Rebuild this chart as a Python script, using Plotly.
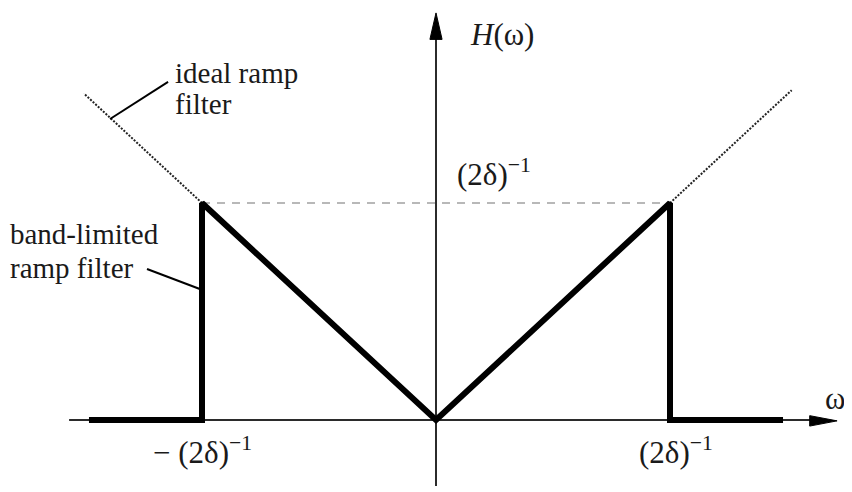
import plotly.graph_objects as go

# ---- data (omega normalised to the band edge (2δ)^-1 = 1) ----
band_w = [-1.483, -1.0, -1.0, 0.0, 1.0, 1.0, 1.483]
band_h = [0.0, 0.0, 1.0, 0.0, 1.0, 0.0, 0.0]

ideal_left_w = [-1.0, -1.505]
ideal_left_h = [1.0, 1.505]
ideal_right_w = [1.0, 1.52]
ideal_right_h = [1.0, 1.52]

cutoff_w = [-1.0, 1.0]
cutoff_h = [1.0, 1.0]

# axis extents
x_axis_start, x_axis_end = -1.568, 1.714
y_axis_start, y_axis_end = -0.304, 1.876

FONT = "Liberation Serif, Times New Roman, serif"
AX = "#2b2b2b"

# pixel scale (the page body adds an 8px offset)
XS, YS = 234.0, 217.0
OFF = 8

fig = go.Figure()

# axes (drawn as lines)
fig.add_trace(go.Scatter(x=[x_axis_start, x_axis_end - 0.11], y=[0, 0], mode="lines",
                         line=dict(color=AX, width=2), hoverinfo="skip"))
fig.add_trace(go.Scatter(x=[0, 0], y=[y_axis_start, y_axis_end - 0.11], mode="lines",
                         line=dict(color=AX, width=2), hoverinfo="skip"))
# arrowheads
fig.add_trace(go.Scatter(x=[x_axis_end, x_axis_end - 0.117, x_axis_end - 0.117, x_axis_end],
                         y=[-0.004, 0.02, -0.028, -0.004], mode="lines", fill="toself",
                         fillcolor="black", line=dict(color="black", width=1), hoverinfo="skip"))
fig.add_trace(go.Scatter(x=[0, -0.026, 0.026, 0],
                         y=[y_axis_end, y_axis_end - 0.122, y_axis_end - 0.122, y_axis_end],
                         mode="lines", fill="toself",
                         fillcolor="black", line=dict(color="black", width=1), hoverinfo="skip"))

# dashed cutoff level
fig.add_trace(go.Scatter(x=cutoff_w, y=cutoff_h, mode="lines",
                         line=dict(color="#b8b8b8", width=2, dash="8px,7px"), hoverinfo="skip"))
# ideal ramp (dotted)
for xs, ys in [(ideal_left_w, ideal_left_h), (ideal_right_w, ideal_right_h)]:
    fig.add_trace(go.Scatter(x=xs, y=ys, mode="lines",
                             line=dict(color="#222", width=2, dash="2px,1.5px"), hoverinfo="skip"))
# band-limited ramp
fig.add_trace(go.Scatter(x=band_w, y=band_h, mode="lines",
                         line=dict(color="black", width=6), hoverinfo="skip"))

# pointer lines
pointers = [((-1.393, 1.387), (-1.145, 1.558)),
            ((-0.998, 0.599), (-1.235, 0.696))]
for (x0, y0), (x1, y1) in pointers:
    fig.add_shape(type="line", x0=x0, y0=y0, x1=x1, y1=y1, xref="x", yref="y",
                  line=dict(color="black", width=2))

tf = dict(family=FONT, size=29, color="#1a1a1a")
mf = dict(family=FONT, size=31, color="#1a1a1a")
labels = [
    dict(x=-1.125, y=(420 - 73) / YS, text="ideal ramp", xanchor="left", font=tf),
    dict(x=-1.125, y=(420 - 104) / YS, text="filter", xanchor="left", font=tf),
    dict(x=-1.829, y=(420 - 234) / YS, text="band-limited", xanchor="left", font=tf),
    dict(x=-1.829, y=(420 - 268) / YS, text="ramp filter", xanchor="left", font=tf),
    dict(x=0.137, y=(420 - 34) / YS, text="<i>H</i>(ω)", xanchor="left", font=mf),
    dict(x=0.081, y=(420 - 172) / YS, text="(2δ)<sup>−1</sup>", xanchor="left", font=mf),
    dict(x=(835 - 436) / XS, y=(420 - 398) / YS, text="ω", xanchor="center", font=mf),
    dict(x=-0.997, y=(420 - 450) / YS, text="− (2δ)<sup>−1</sup>", xanchor="center", font=mf),
    dict(x=1.026, y=(420 - 450) / YS, text="(2δ)<sup>−1</sup>", xanchor="center", font=mf),
]
for lab in labels:
    fig.add_annotation(showarrow=False, xref="x", yref="y", yanchor="middle", **lab)

fig.update_layout(
    width=852, height=492,
    margin=dict(l=0, r=0, t=0, b=0),
    paper_bgcolor="white", plot_bgcolor="white",
    showlegend=False,
    xaxis=dict(range=[(OFF - 436) / XS, (OFF + 852 - 436) / XS], visible=False, fixedrange=True),
    yaxis=dict(range=[(420 - OFF - 492) / YS, (420 - OFF) / YS], visible=False, fixedrange=True),
)

fig.write_html("out.html")
